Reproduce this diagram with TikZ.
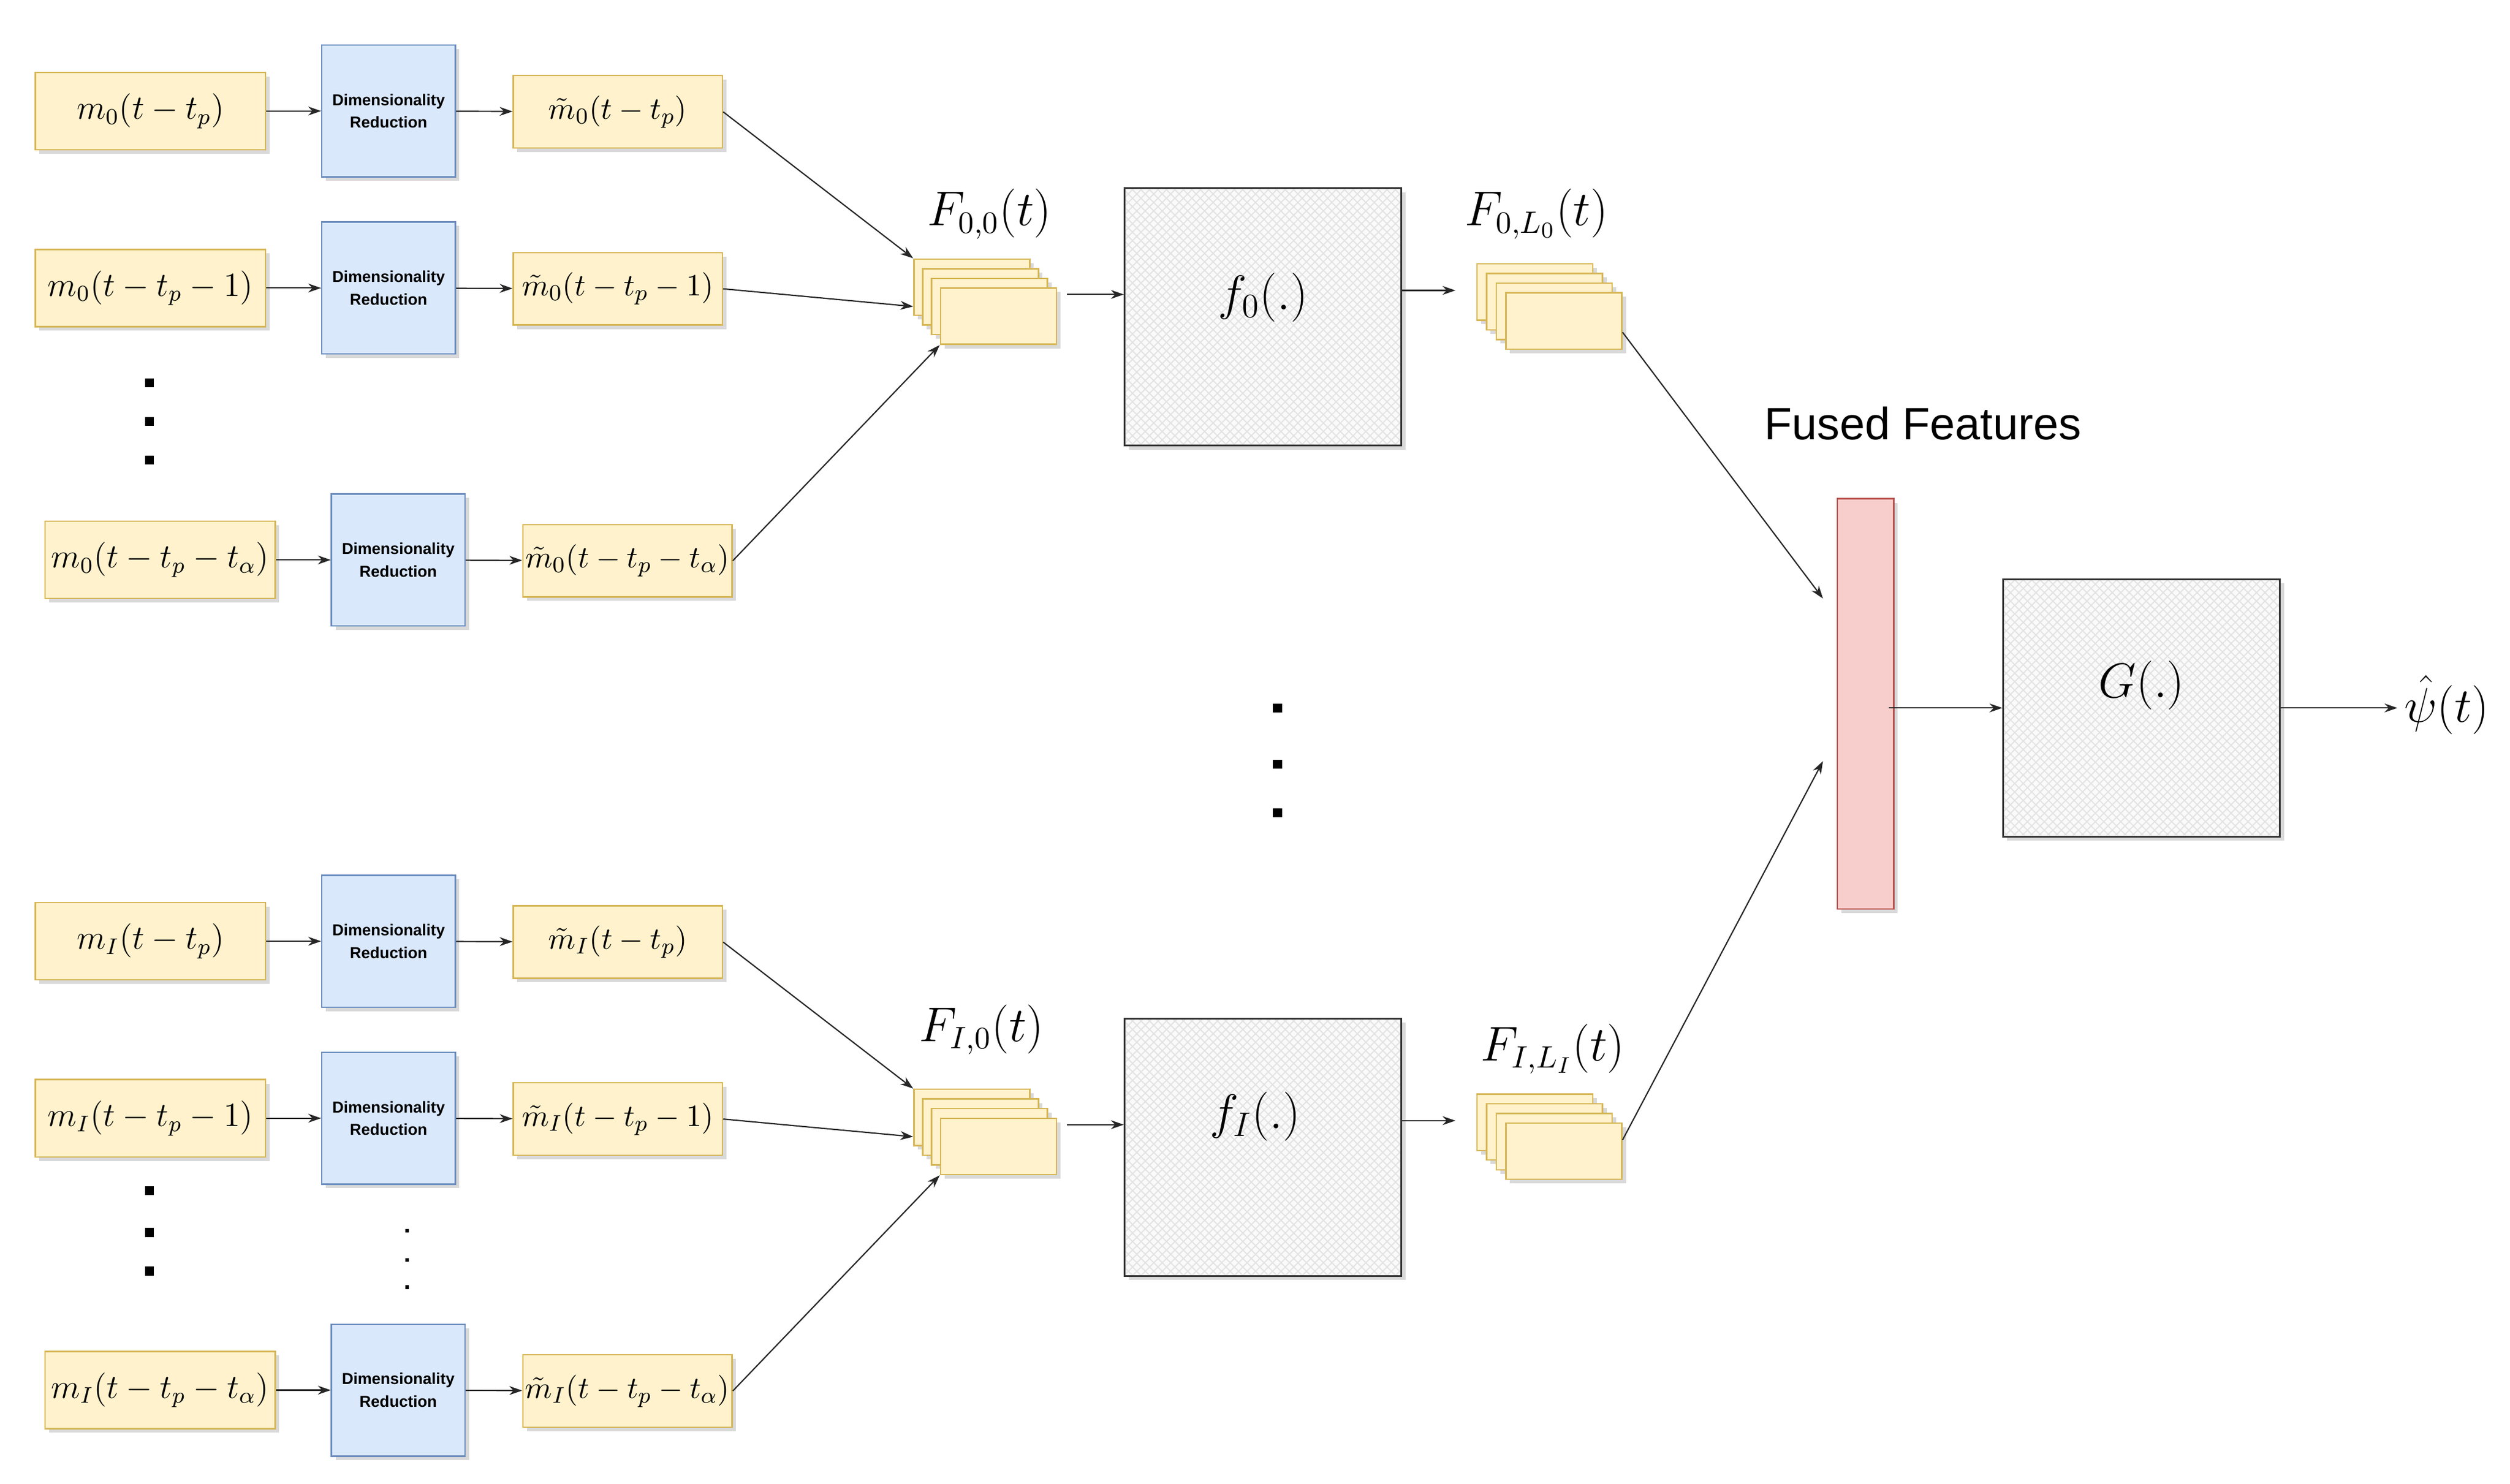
\documentclass[tikz,border=0pt]{standalone}
\usepackage{fontspec}
\usepackage{amsmath}
\newfontfamily\sansf{Liberation Sans}
\usetikzlibrary{shadows,patterns,arrows.meta}
\definecolor{yfill}{HTML}{FFF2CC}\definecolor{ydraw}{HTML}{D6B656}
\definecolor{bfill}{HTML}{DAE8FC}\definecolor{bdraw}{HTML}{6C8EBF}
\definecolor{rfill}{HTML}{F8CECC}\definecolor{rdraw}{HTML}{B85450}
\tikzset{
  shd/.style={drop shadow={shadow xshift=0.5mm,shadow yshift=-0.5mm,opacity=0.25,fill=black!60}},
  inp/.style={draw=ydraw,fill=yfill,line width=0.5pt,shd,minimum width=28.6mm,minimum height=9.6mm,inner sep=0pt,font=\fontsize{11.5}{13}\selectfont},
  outp/.style={inp,minimum width=26mm,minimum height=9mm,font=\fontsize{10.8}{13}\selectfont},
  dr/.style={draw=bdraw,fill=bfill,line width=0.5pt,shd,minimum width=16.6mm,minimum height=16.4mm,inner sep=0pt,align=center,font=\sansf\bfseries\fontsize{5.6}{8}\selectfont},
  sk/.style={draw=ydraw,fill=yfill,line width=0.5pt,shd,minimum width=14.4mm,minimum height=7mm,inner sep=0pt},
  fbox/.style={draw=black!80,line width=0.6pt,shd,preaction={fill=gray!4},pattern=crosshatch,pattern color=gray!22,minimum width=34.4mm,minimum height=32mm,inner sep=0pt},
  lbl/.style={inner sep=0pt,font=\fontsize{16}{18}\selectfont},
  arr/.style={-{Stealth[length=1.6mm,width=1.1mm]},line width=0.45pt,black!85},
  dot/.style={fill=black,minimum size=1.1mm,inner sep=0pt},
  sdot/.style={fill=black,minimum size=0.45mm,inner sep=0pt}
}
\begin{document}
\begin{tikzpicture}[x=0.2mm,y=-0.2mm]
\useasboundingbox (0,0) rectangle (1560,922);
\foreach \g/\o/\s in {0/0/0,1/516/I}{
  \node[inp] (i1\g) at (93.5,69+\o) {$m_\s(t-t_p)$};
  \node[inp] (i2\g) at (93.5,179+\o) {$m_\s(t-t_p-1)$};
  \node[inp] (i3\g) at (99.5,348+\o) {$m_\s(t-t_p-t_\alpha)$};
  \node[dr] (d1\g) at (241.5,69+\o) {Dimensionality\\Reduction};
  \node[dr] (d2\g) at (241.5,179+\o) {Dimensionality\\Reduction};
  \node[dr] (d3\g) at (247.5,348+\o) {Dimensionality\\Reduction};
  \node[outp] (o1\g) at (384,69.5+\o) {$\tilde{m}_\s(t-t_p)$};
  \node[outp] (o2\g) at (384,179.5+\o) {$\tilde{m}_\s(t-t_p-1)$};
  \node[outp] (o3\g) at (390,348.5+\o) {$\tilde{m}_\s(t-t_p-t_\alpha)$};
  \foreach \k in {0,...,3}{
    \node[sk] (s\k\g) at (604+5.5*\k,178.5+6*\k+\o) {};
  }
  \foreach \k in {0,...,3}{
    \node[sk] (t\k\g) at (954+6*\k,181.5+6*\k+\o) {};
  }
  \foreach \a/\b in {i1/d1,i2/d2,i3/d3,d1/o1,d2/o2,d3/o3}{
    \draw[arr] (\a\g) -- (\b\g);
  }
  \draw[arr] (o1\g.east) -- (s0\g.north west);
  \draw[arr] (o2\g.east) -- ([yshift=-2.4mm]s0\g.west);
  \draw[arr] (o3\g.east) -- (s3\g.south west);
}
\node[fbox] (f0) at (785,197) {};
\node[fbox] (f1) at (785,713) {};
\node[lbl,font=\fontsize{18}{20}\selectfont] at (785,185) {$f_0(.)$};
\node[lbl,font=\fontsize{18}{20}\selectfont] at (780,694) {$f_I(.)$};
\node[lbl] (l00) at (615,133) {$F_{0,0}(t)$};
\node[lbl] (l01) at (955,133) {$F_{0,L_0}(t)$};
\node[lbl] (l10) at (610,640) {$F_{I,0}(t)$};
\node[lbl] (l11) at (965,652) {$F_{I,L_I}(t)$};
\foreach \g/\f in {0/f0,1/f1}{
  \draw[arr,shorten <=1.2mm] (s3\g.east|-\f.west) ++(0,-14) coordinate (a\g) -- (\f.west|-a\g);
  \draw[arr,shorten >=2.6mm] (\f.east|-t0\g.east) ++(0,-1) coordinate (b\g) -- (t0\g.west|-b\g);
}
\foreach \y in {238,262,286}{\node[dot] at (93,\y) {};}
\foreach \y in {740,766,790}{\node[dot] at (93,\y) {};}
\foreach \y in {440,475,505}{\node[dot] at (794,\y) {};}
\foreach \y in {765,783,800}{\node[sdot] at (253,\y) {};}
\node[draw=rdraw,fill=rfill,line width=0.5pt,shd,minimum width=7mm,minimum height=51mm,inner sep=0pt] (bar) at (1159.5,437.5) {};
\node[inner sep=0pt,font=\sansf\fontsize{16}{18}\selectfont] (fused) at (1195,263) {Fused Features};
\coordinate (c1) at (1133,372);
\coordinate (c2) at (1133,473);
\draw[arr] ([yshift=-1.4mm]t30.east) -- (c1);
\draw[arr] ([yshift=1.4mm]t31.east) -- (c2);
\node[fbox] (G) at (1331,440) {};
\node[lbl,font=\fontsize{16}{18}\selectfont] at (1331,426) {$G(.)$};
\coordinate (bo) at (1174,440);
\draw[arr] (bo) -- (G.west);
\coordinate (pe) at (1490,440);
\draw[arr] (G.east) -- (pe);
\node[lbl,font=\fontsize{16.5}{18}\selectfont,anchor=west] (psi) at (1494,438) {$\hat{\psi}(t)$};
\end{tikzpicture}
\end{document}
